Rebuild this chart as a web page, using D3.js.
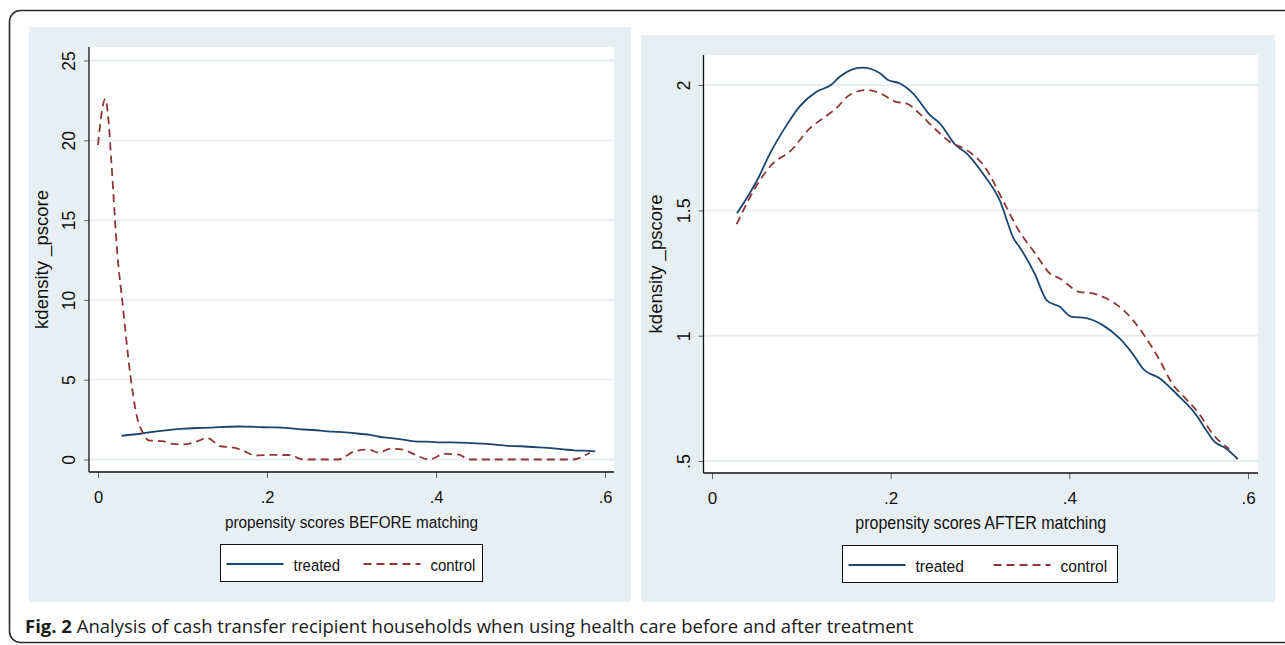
<!DOCTYPE html>
<html>
<head>
<meta charset="utf-8">
<script src="https://cdn.jsdelivr.net/npm/d3@7"></script>
<style>
  body { margin: 0; background: #fff; }
  svg { display: block; }
  .tick text { font-family: "Liberation Sans", Arial, sans-serif; fill: #111; }
  .axis-title, .legend-text { font-family: "Liberation Sans", Arial, sans-serif; fill: #111; }
  .caption { font-family: "Open Sans", sans-serif; font-size: 18.5px; fill: #1a1a1a; }
</style>
</head>
<body>
<svg id="chart" width="1285" height="645"></svg>
<script>
// kdensity of treated propensity scores (same in both panels)
var treatedX = [0.028, 0.052, 0.065, 0.08, 0.098, 0.117, 0.133, 0.143, 0.168, 0.188, 0.197, 0.21, 0.225,
                0.244, 0.255, 0.272, 0.285, 0.303, 0.322, 0.3385, 0.344, 0.361, 0.375, 0.389, 0.402, 0.419,
                0.437, 0.456, 0.473, 0.482, 0.501, 0.523, 0.542, 0.553, 0.563, 0.575, 0.5885];
var treatedY = [1.488, 1.63, 1.727, 1.82, 1.914, 1.973, 2.0, 2.033, 2.069, 2.047, 2.02, 2.007, 1.967,
                1.88, 1.847, 1.763, 1.727, 1.648, 1.541, 1.382, 1.355, 1.249, 1.14, 1.116, 1.076, 1.07,
                1.043, 0.99, 0.917, 0.87, 0.83, 0.757, 0.684, 0.624, 0.575, 0.551, 0.508];

// control before matching
var controlBeforeX = [0.0, 0.004, 0.0085, 0.012, 0.016, 0.023, 0.029, 0.038, 0.046, 0.054, 0.06, 0.076,
                      0.088, 0.1, 0.118, 0.129, 0.145, 0.157, 0.169, 0.186, 0.206, 0.227, 0.243, 0.284,
                      0.304, 0.32, 0.333, 0.345, 0.361, 0.373, 0.392, 0.41, 0.427, 0.439, 0.561, 0.582];
var controlBeforeY = [19.7, 21.6, 22.6, 21.5, 18.5, 12.8, 9.8, 5.4, 2.7, 1.6, 1.2, 1.15,
                      0.98, 0.94, 1.15, 1.35, 0.83, 0.77, 0.62, 0.25, 0.29, 0.27, 0, 0,
                      0.52, 0.62, 0.42, 0.67, 0.62, 0.35, 0, 0.35, 0.31, 0, 0, 0.42];

// control after matching
var controlAfterX = [0.0276, 0.0536, 0.0685, 0.087, 0.1095, 0.132, 0.139, 0.154, 0.173, 0.188, 0.206,
                     0.2175, 0.232, 0.247, 0.266, 0.285, 0.305, 0.3255, 0.342, 0.363, 0.378, 0.389, 0.411,
                     0.426, 0.441, 0.456, 0.471, 0.486, 0.501, 0.515, 0.53, 0.545, 0.56, 0.579];
var controlAfterY = [1.445, 1.62, 1.688, 1.734, 1.827, 1.887, 1.907, 1.96, 1.98, 1.967, 1.933,
                     1.927, 1.887, 1.834, 1.774, 1.741, 1.675, 1.541, 1.428, 1.322, 1.249, 1.229, 1.175,
                     1.169, 1.149, 1.116, 1.063, 0.99, 0.903, 0.81, 0.75, 0.69, 0.61, 0.548];

var xTicks = [0, 0.2, 0.4, 0.6];
var yTicksBefore = [0, 5, 10, 15, 20, 25];
var yTicksAfter = [0.5, 1, 1.5, 2];
var seriesNames = ["treated", "control"];
var yTitle = "kdensity _pscore";
var captionBold = "Fig. 2";
var captionText = " Analysis of cash transfer recipient households when using health care before and after treatment";

var NAVY = "#1a476f", MAROON = "#90353b", PANEL_BG = "#e8eff2", GRID = "#e6eef1";

var svg = d3.select("#chart");

function fmt(v) {
    // Stata style: drop the leading zero
    return String(v).replace(/^0\./, ".");
}

function zip(xs, ys) {
    return xs.map(function(x, i) { return {x: x, y: ys[i]}; });
}

function drawPanel(opt) {
    var g = svg.append("g");
    g.append("rect").attr("x", opt.bg[0]).attr("y", opt.bg[1])
        .attr("width", opt.bg[2]).attr("height", opt.bg[3]).attr("fill", PANEL_BG);
    g.append("rect").attr("x", opt.plot[0]).attr("y", opt.plot[1])
        .attr("width", opt.plot[2] - opt.plot[0]).attr("height", opt.plot[3] - opt.plot[1])
        .attr("fill", "#fff");

    var x = d3.scaleLinear().domain([0, 0.6]).range(opt.xRange);
    var y = d3.scaleLinear().domain(opt.yDomain).range(opt.yRange);

    // gridlines
    g.selectAll(".grid").data(opt.yTicks).enter().append("line")
        .attr("x1", opt.plot[0] + 1).attr("x2", opt.plot[2])
        .attr("y1", function(d) { return y(d); }).attr("y2", function(d) { return y(d); })
        .attr("stroke", GRID).attr("stroke-width", 1.8);

    var yAxis = g.append("g").attr("transform", "translate(" + opt.plot[0] + ",0)")
        .call(d3.axisLeft(y).tickValues(opt.yTicks).tickFormat(fmt).tickSize(5).tickPadding(0));
    yAxis.select(".domain").remove();
    yAxis.selectAll(".tick line").attr("stroke", "#666");
    yAxis.selectAll(".tick text")
        .attr("transform", "rotate(-90)")
        .attr("x", 0).attr("y", -14).attr("dy", 0)
        .attr("text-anchor", "middle")
        .style("font-size", opt.fs.yTick + "px");

    var xAxis = g.append("g").attr("transform", "translate(0," + opt.plot[3] + ")")
        .call(d3.axisBottom(x).tickValues(xTicks).tickFormat(fmt).tickSize(6).tickPadding(0));
    xAxis.select(".domain").remove();
    xAxis.selectAll(".tick line").attr("stroke", "#666");
    xAxis.selectAll(".tick text").attr("y", 30.5).attr("dy", 0)
        .style("font-size", opt.fs.xTick + "px");

    // axis lines
    g.append("line").attr("x1", opt.plot[0]).attr("x2", opt.plot[0])
        .attr("y1", opt.plot[1]).attr("y2", opt.plot[3]).attr("stroke", "#111").attr("stroke-width", 1.3);
    g.append("line").attr("x1", opt.plot[0]).attr("x2", opt.plot[2])
        .attr("y1", opt.plot[3]).attr("y2", opt.plot[3]).attr("stroke", "#111").attr("stroke-width", 1.3);

    var line = d3.line().curve(d3.curveMonotoneX)
        .x(function(d) { return x(d.x); })
        .y(function(d) { return y(d.y); });

    g.append("path").datum(zip(treatedX, treatedY)).attr("d", line)
        .attr("fill", "none").attr("stroke", NAVY).attr("stroke-width", 1.8);
    g.append("path").datum(opt.control).attr("d", line)
        .attr("fill", "none").attr("stroke", MAROON).attr("stroke-width", 1.8)
        .attr("stroke-dasharray", "8,5");

    // titles (Stata's font is a bit narrower, so squeeze horizontally)
    var cx = (opt.plot[0] + opt.plot[2]) / 2, cy = (opt.plot[1] + opt.plot[3]) / 2;
    g.append("text").attr("class", "axis-title")
        .attr("transform", "translate(" + cx + "," + (opt.plot[3] + 56) + ") scale(" + opt.fs.squeeze + ",1)")
        .attr("text-anchor", "middle").style("font-size", opt.fs.xTitle + "px").text(opt.xTitle);
    g.append("text").attr("class", "axis-title")
        .attr("transform", "translate(" + (opt.plot[0] - 41.5) + "," + cy + ") rotate(-90)")
        .attr("text-anchor", "middle").style("font-size", opt.fs.yTitle + "px").text(yTitle);

    // legend
    var lg = g.append("g").attr("transform", "translate(" + opt.legend[0] + "," + opt.legend[1] + ")");
    lg.append("rect").attr("width", opt.legend[2]).attr("height", 37)
        .attr("fill", "#fff").attr("stroke", "#111").attr("stroke-width", 1);
    var items = [{name: seriesNames[0], color: NAVY, dash: null},
                 {name: seriesNames[1], color: MAROON, dash: "8,5"}];
    var offs = [6, opt.legend[3]];
    items.forEach(function(it, i) {
        lg.append("line").attr("x1", offs[i]).attr("x2", offs[i] + 57)
            .attr("y1", 19.5).attr("y2", 19.5)
            .attr("stroke", it.color).attr("stroke-width", 1.8)
            .attr("stroke-dasharray", it.dash);
        lg.append("text").attr("class", "legend-text")
            .attr("transform", "translate(" + (offs[i] + 67) + ",26) scale(" + opt.fs.squeeze + ",1)")
            .style("font-size", opt.fs.legend + "px").text(it.name);
    });
}

drawPanel({
    bg: [29, 27, 602, 575],
    plot: [89, 47, 614, 472],
    xRange: [98, 605],
    yDomain: [0, 25],
    yRange: [459.5, 60.5],
    yTicks: yTicksBefore,
    control: zip(controlBeforeX, controlBeforeY),
    xTitle: "propensity scores BEFORE matching",
    legend: [220.5, 544.5, 262, 143],
    fs: {xTick: 16.5, yTick: 17.5, xTitle: 17, yTitle: 18.5, legend: 16.6, squeeze: 0.9}
});

drawPanel({
    bg: [641, 35, 634, 567],
    plot: [703.5, 55, 1258, 473],
    xRange: [712, 1248],
    yDomain: [0.5, 2],
    yRange: [461, 85],
    yTicks: yTicksAfter,
    control: zip(controlAfterX, controlAfterY),
    xTitle: "propensity scores AFTER matching",
    legend: [842.5, 545.5, 275, 151],
    fs: {xTick: 17, yTick: 18, xTitle: 17.5, yTitle: 18.5, legend: 17, squeeze: 0.915}
});

// outer frame and caption
svg.append("rect").attr("x", 9.5).attr("y", 10.5).attr("width", 1320).attr("height", 632)
    .attr("rx", 11).attr("fill", "none").attr("stroke", "#2a2a2a").attr("stroke-width", 1.6);

var cap = svg.append("text").attr("class", "caption").attr("x", 25).attr("y", 633);
cap.append("tspan").attr("font-weight", "bold").text(captionBold);
cap.append("tspan").text(captionText);
</script>
</body>
</html>
